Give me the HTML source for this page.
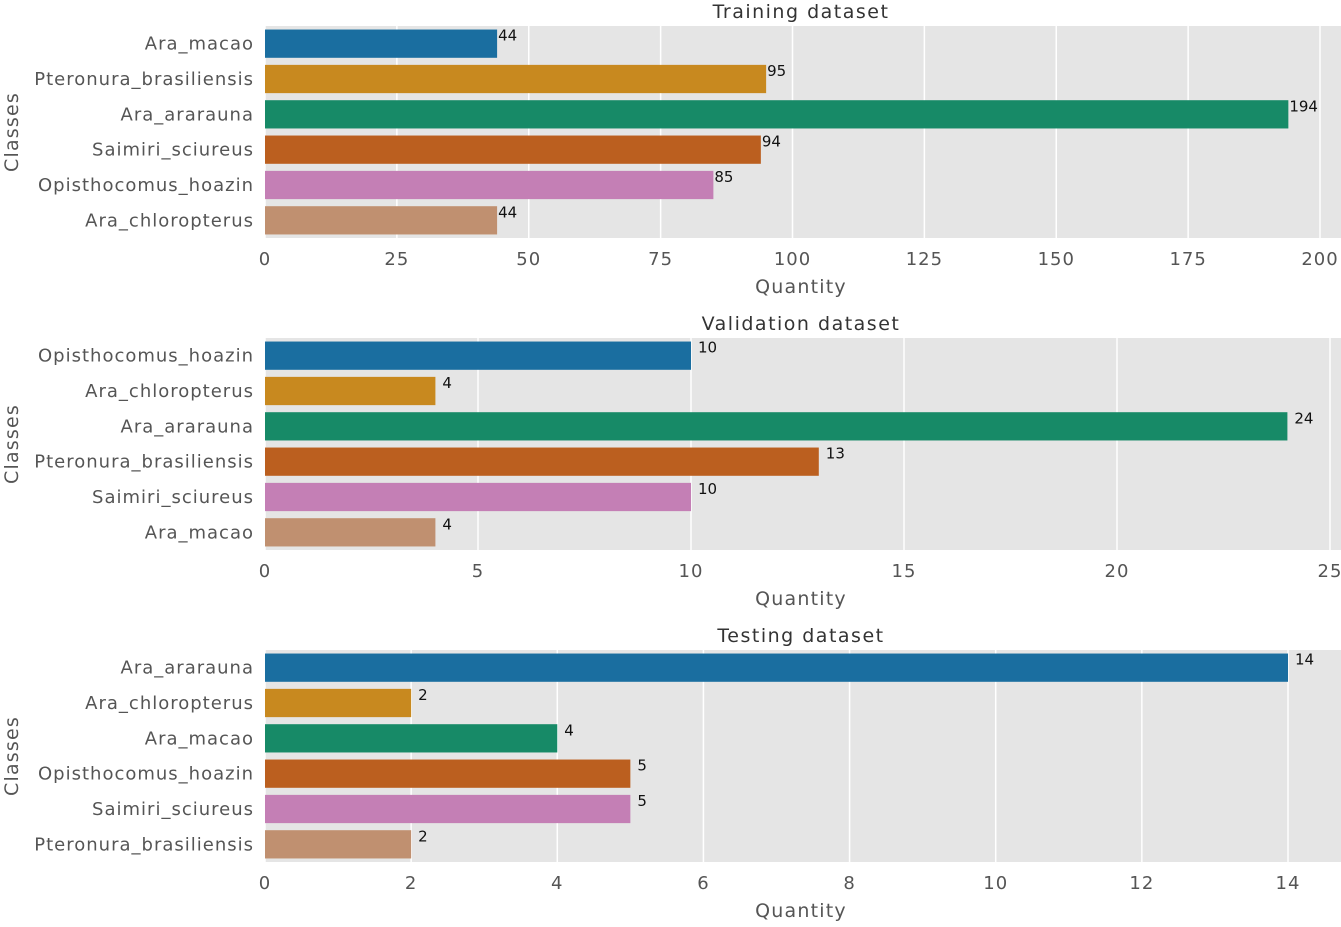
<!DOCTYPE html>
<html><head><meta charset="utf-8"><style>
body{margin:0;background:#fff;}
svg text{font-family:"DejaVu Sans","Liberation Sans",sans-serif;}
</style></head><body>
<svg id="chart" width="1341" height="922" xmlns="http://www.w3.org/2000/svg"></svg>
<script>
const trainClasses=["Ara_macao","Pteronura_brasiliensis","Ara_ararauna","Saimiri_sciureus","Opisthocomus_hoazin","Ara_chloropterus"];
const trainValues=[44,95,194,94,85,44];
const trainTicks=[0,25,50,75,100,125,150,175,200];
const valClasses=["Opisthocomus_hoazin","Ara_chloropterus","Ara_ararauna","Pteronura_brasiliensis","Saimiri_sciureus","Ara_macao"];
const valValues=[10,4,24,13,10,4];
const valTicks=[0,5,10,15,20,25];
const testClasses=["Ara_ararauna","Ara_chloropterus","Ara_macao","Opisthocomus_hoazin","Saimiri_sciureus","Pteronura_brasiliensis"];
const testValues=[14,2,4,5,5,2];
const testTicks=[0,2,4,6,8,10,12,14];
const titles=["Training dataset","Validation dataset","Testing dataset"];
const colors=["#1a6ea0","#c8891f","#178a67","#bb5f1f","#c47fb5","#c09070"];
const svg=document.getElementById('chart');
const NS="http://www.w3.org/2000/svg";
function mk(t,a,txt){const e=document.createElementNS(NS,t);for(const k in a)e.setAttribute(k,a[k]);if(txt!==undefined)e.textContent=txt;svg.appendChild(e);return e;}
const panels=[
 {c:trainClasses,v:trainValues,t:trainTicks,top:26,max:200,x1:1320,slug:'training'},
 {c:valClasses,v:valValues,t:valTicks,top:338,max:25,x1:1330,slug:'validation'},
 {c:testClasses,v:testValues,t:testTicks,top:650,max:14,x1:1288,slug:'testing'}
];
panels.forEach((p,pi)=>{
 const x0=265,h=212;
 const sx=v=>x0+v/p.max*(p.x1-x0);
 const bg=mk('rect',{x:x0,y:p.top,width:1341-x0,height:h,fill:'#e5e5e5'});
 
 
 p.t.forEach(t=>{
  const g=mk('line',{x1:sx(t),x2:sx(t),y1:p.top,y2:p.top+h,stroke:'#fff','stroke-width':1.5});
  
  
  const tl=mk('text',{x:sx(t),y:p.top+h+27,'text-anchor':'middle','font-size':18,'letter-spacing':1,fill:'#555'},t);
  
  
 });
 const band=h/p.c.length;
 p.c.forEach((c,i)=>{
  const cy=p.top+band*(i+0.5);
  const b=mk('rect',{x:x0,y:cy-band*0.4,width:sx(p.v[i])-x0,height:band*0.8,fill:colors[i]});
  
  
  const yl=mk('text',{x:254,y:cy+6,'text-anchor':'end','font-size':18,'letter-spacing':1,fill:'#555'},c);
  
  
  const vl=mk('text',{x:sx(p.v[i])+(pi==0?1:7),y:cy-3,'font-size':15,fill:'#111'},p.v[i]);
  
  
 });
 const tt=mk('text',{x:801,y:p.top-8,'text-anchor':'middle','font-size':19,'letter-spacing':1.5,fill:'#333'},titles[pi]);
 
 
 const xl=mk('text',{x:801,y:p.top+h+55,'text-anchor':'middle','font-size':19,'letter-spacing':1.2,fill:'#555'},'Quantity');
 
 
 const cyy=p.top+h/2;
 const ylab=mk('text',{x:18,y:cyy,'text-anchor':'middle','font-size':19,'letter-spacing':1.2,fill:'#555',transform:`rotate(-90 18 ${cyy})`},'Classes');
 
 
});
</script>
</body></html>
